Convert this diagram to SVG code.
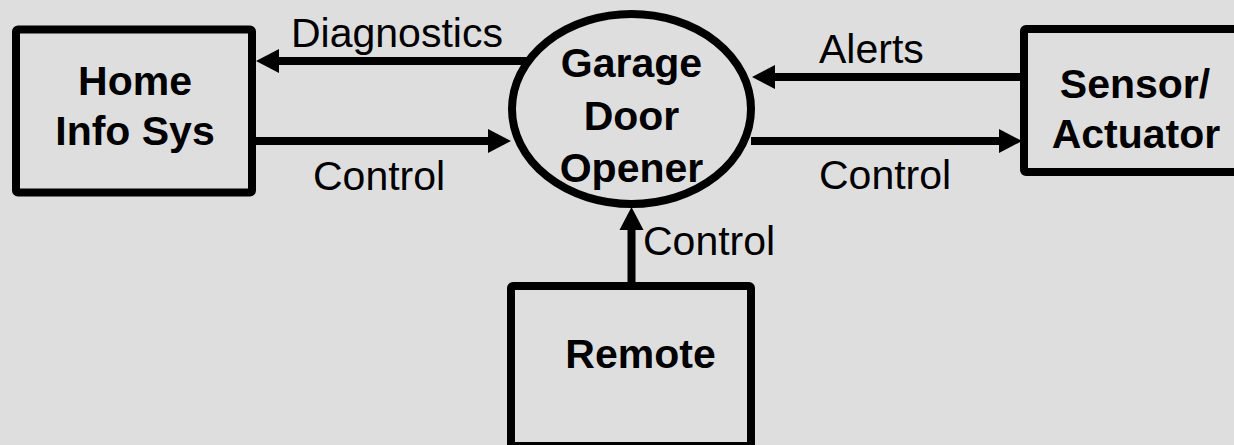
<svg xmlns="http://www.w3.org/2000/svg" width="1234" height="445" viewBox="0 0 1234 445">
  <defs>
    <style>
      .box { fill: none; stroke: #000; stroke-width: 8; stroke-linejoin: round; }
      .flow { stroke: #000; stroke-width: 8; fill: none; }
      .head { fill: #000; stroke: none; }
      .name { font-family: "Liberation Sans", Arial, sans-serif; font-size: 41px; font-weight: bold; fill: #000; text-anchor: middle; }
      .label { font-family: "Liberation Sans", Arial, sans-serif; font-size: 41px; fill: #000; }
    </style>
  </defs>

  <rect width="1234" height="445" fill="#dedede"/>

  <!-- external entity: home information system -->
  <g id="home-info-sys">
    <rect class="box" x="16" y="29.5" width="236" height="163" rx="2"/>
    <text class="name" x="135" y="95">Home</text>
    <text class="name" x="135" y="145">Info Sys</text>
  </g>

  <!-- central process -->
  <g id="garage-door-opener">
    <ellipse class="box" cx="631.5" cy="109" rx="119.5" ry="95"/>
    <text class="name" x="631.5" y="77">Garage</text>
    <text class="name" x="631.5" y="130">Door</text>
    <text class="name" x="631.5" y="182">Opener</text>
  </g>

  <!-- external entity: sensor / actuator (runs off the right edge) -->
  <g id="sensor-actuator">
    <rect class="box" x="1024" y="29" width="300" height="143" rx="2"/>
    <text class="name" x="1135" y="98">Sensor/</text>
    <text class="name" x="1136" y="148">Actuator</text>
  </g>

  <!-- external entity: remote (runs off the bottom edge) -->
  <g id="remote">
    <rect class="box" x="511" y="286" width="240" height="160" rx="2"/>
    <text class="name" x="640.5" y="368">Remote</text>
  </g>

  <!-- data flows -->
  <g id="connectors">
    <!-- Diagnostics: opener to home info sys -->
    <line class="flow" x1="530" y1="61" x2="276" y2="61"/>
    <polygon class="head" points="256,61 279,49 279,73"/>
    <text class="label" x="291" y="47">Diagnostics</text>

    <!-- Control: home info sys to opener -->
    <line class="flow" x1="252" y1="141" x2="490" y2="141"/>
    <polygon class="head" points="511,141 488,129 488,153"/>
    <text class="label" x="313" y="190">Control</text>

    <!-- Alerts: sensor to opener -->
    <line class="flow" x1="1024" y1="77" x2="772" y2="77"/>
    <polygon class="head" points="752,77 775,65 775,89"/>
    <text class="label" x="819" y="63">Alerts</text>

    <!-- Control: opener to actuator -->
    <line class="flow" x1="751" y1="141" x2="1002" y2="141"/>
    <polygon class="head" points="1022,141 999,129 999,153"/>
    <text class="label" x="819" y="189">Control</text>

    <!-- Control: remote to opener -->
    <line class="flow" x1="631.5" y1="286" x2="631.5" y2="226"/>
    <polygon class="head" points="631.5,207 619.5,230 643.5,230"/>
    <text class="label" x="643" y="255">Control</text>
  </g>
</svg>
